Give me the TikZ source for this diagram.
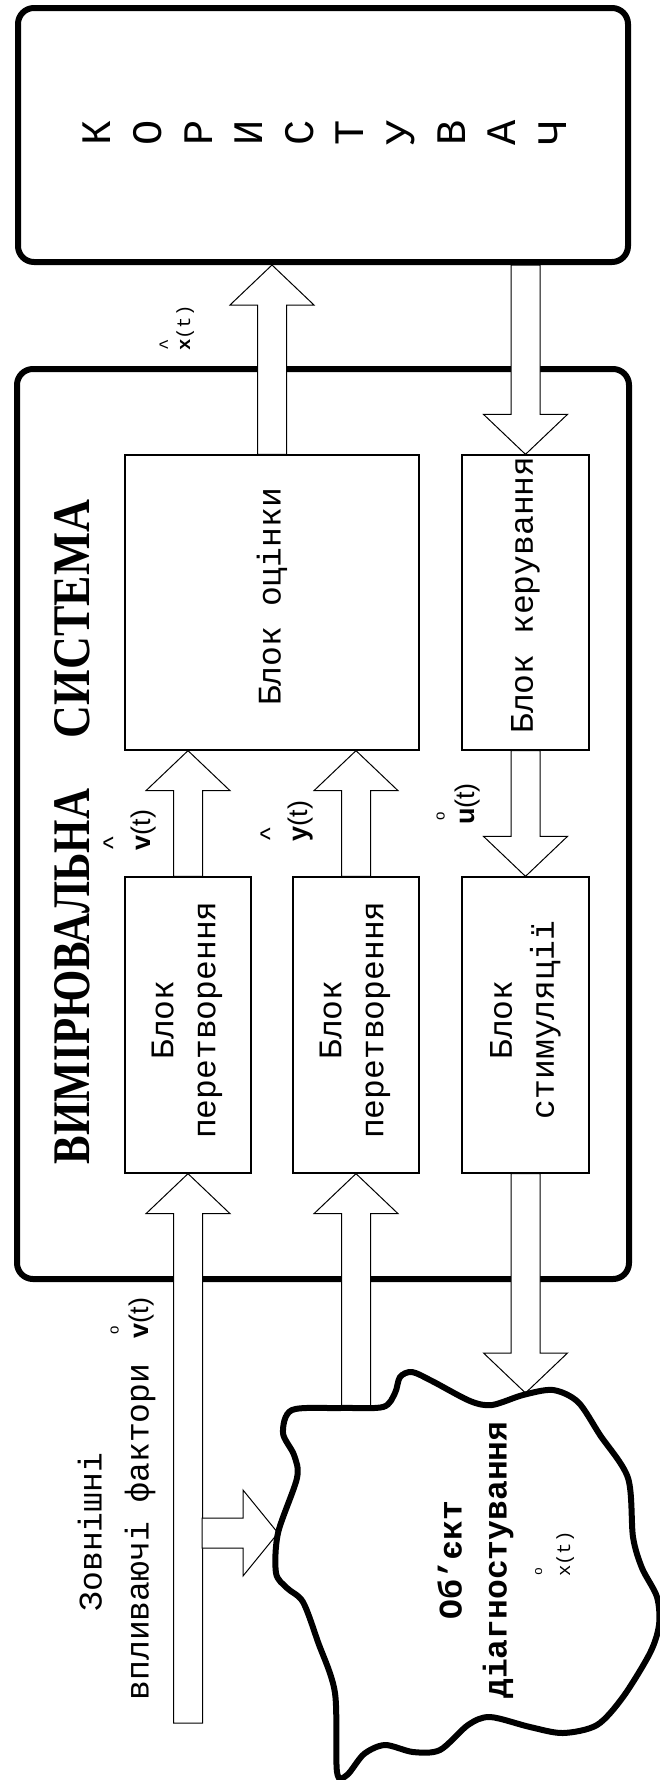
\documentclass[tikz,border=0pt]{standalone}
\usepackage{graphicx}
\usepackage{fontspec}
\setmainfont{Liberation Mono}
\newfontfamily\sansf{Liberation Sans}
\newfontfamily\serf{Liberation Serif}
\usetikzlibrary{calc}

% signal label with a mark above the letter
\newcommand\sig[3]{\begin{tabular}[b]{@{}c@{}}#1\\[#3]#2\end{tabular}(t)}

% vertical block arrow from #1 to #2
\newcommand\fatarrow[2]{%
  \draw[fatarr] let \p1=(#1), \p2=(#2), \n1={ifthenelse(\y2>\y1,1,-1)} in
    (\x1-14.5pt,\y1) -- (\x1-14.5pt,\y2-\n1*40pt) -- (\x1-42pt,\y2-\n1*40pt)
    -- (\x2,\y2) -- (\x1+42pt,\y2-\n1*40pt) -- (\x1+14.5pt,\y2-\n1*40pt)
    -- (\x1+14.5pt,\y1) -- cycle;}

% horizontal block arrow, to the right
\newcommand\fatarrowh[2]{%
  \draw[fatarr] let \p1=(#1), \p2=(#2) in
    (\x1,\y1-15pt) -- (\x2-35pt,\y1-15pt) -- (\x2-35pt,\y1-43pt) -- (\x2,\y2)
    -- (\x2-35pt,\y1+43pt) -- (\x2-35pt,\y1+15pt) -- (\x1,\y1+15pt) -- cycle;}

\begin{document}
\begin{tikzpicture}[x=1pt, y=-1pt,
    bigbox/.style={draw, line width=6pt, rounded corners=16pt, inner sep=0pt},
    blk/.style={draw, line width=1.3pt, inner sep=0pt, minimum width=#1, minimum height=296pt},
    blk/.default=126pt,
    fatarr/.style={draw, fill=white, line width=1pt, line join=miter},
    vtext/.style={rotate=90, inner sep=0pt, align=center, font=\fontsize{33pt}{42pt}\selectfont},
    lbl/.style={rotate=90, inner sep=0pt, font=\sansf\fontsize{27pt}{28pt}\selectfont}]
    \fill[white] (0,0) rectangle (660,1780);
    \useasboundingbox (0,0) rectangle (660,1780);

    % Measuring system (big frame)
    \node[bigbox, minimum width=612pt, minimum height=910pt] (sys) at (323,824) {};
    \node[rotate=90, inner sep=0pt, font=\serf\bfseries] (title) at (72.5,832)
        {\resizebox{375pt}{35pt}{ВИМІРЮВАЛЬНА}\hspace{51pt}\resizebox{238pt}{35pt}{СИСТЕМА}};

    % User (top)
    \node[bigbox, minimum width=610pt, minimum height=254pt] (user) at (323,135) {};
    \foreach \c [count=\i from 0] in {К,О,Р,И,С,Т,У,В,А,Ч}
        \node[rotate=90, inner sep=0pt, font=\fontsize{42pt}{42pt}\selectfont] (u\i) at ({97+50.6*\i},133) {\c};

    % Blocks
    \node[blk=294pt, minimum height=295pt] (ocin) at (272,602.5) {};
    \node[blk=127pt, minimum height=295pt] (kerv) at (525.5,602.5) {};
    \node[blk] (per1) at (188,1025) {};
    \node[blk] (per2) at (356,1025) {};
    \node[blk=127pt] (stim) at (525.5,1025) {};
    \node[vtext] (ocin-t) at (272,597) {Блок оцінки};
    \node[vtext] (kerv-t) at (525.5,595) {Блок керування};
    \node[vtext] (per1-t) at (187,1020) {Блок\\перетворення};
    \node[vtext] (per2-t) at (355,1020) {Блок\\перетворення};
    \node[vtext] (stim-t) at (525.5,1020) {Блок\\стимуляції};

    % Free ends
    \coordinate (ext) at (188,1723);
    \coordinate (infl) at (202,1533);
    \coordinate (objL) at (278,1533);
    \coordinate (objT) at (356,1408);
    \coordinate (objR) at (525.5,1393);

    % Block arrows
    \fatarrow{ocin.north -| ocin}{user.south -| ocin}
    \fatarrow{kerv.north |- user.south}{kerv.north}
    \fatarrow{per1.north}{ocin.south -| per1}
    \fatarrow{per2.north}{ocin.south -| per2}
    \fatarrow{kerv.south}{stim.north}
    \fatarrow{ext}{per1.south}
    \fatarrow{objT}{per2.south}
    \fatarrow{stim.south}{objR}
    \fatarrowh{infl}{objL}

    % Object of diagnosis (blob)
    \draw[line width=6pt, fill=white] plot[smooth cycle, tension=0.5] coordinates {
        (292,1410) (340,1408) (383,1407) (395,1393) (400,1377) (412,1372) (432,1381)
        (470,1401) (492,1405) (523,1395) (553,1390) (578,1402) (600,1435) (628,1478)
        (633,1537) (642,1568) (657,1597) (659,1625) (650,1653) (623,1697) (597,1725)
        (563,1733) (530,1727) (490,1717) (468,1725) (440,1750) (413,1752) (385,1745)
        (364,1754) (347,1775) (337,1772) (335,1693) (318,1642) (303,1602) (287,1588)
        (276,1573) (278,1533) (297,1478) (294,1455) (283,1433)};
    \node[vtext, font=\bfseries\fontsize{33pt}{45pt}\selectfont] (obj-t) at (475.5,1560) {Об'єкт\\діагностування};
    \node[rotate=90, inner sep=0pt, font=\fontsize{19pt}{20pt}\selectfont] (xo) at (552,1554)
        {\sig{\fontsize{13pt}{13pt}\selectfont o}{x}{8pt}};

    % External factors
    \node[vtext, font=\fontsize{33pt}{47pt}\selectfont] (ext-t) at (116.5,1532) {Зовнішні\\впливаючі фактори};

    % Signal labels
    \node[rotate=90, inner sep=0pt, font=\fontsize{19pt}{20pt}\selectfont] (xh) at (177,328)
        {\sig{\textasciicircum}{\textbf{x}}{-2pt}};
    \node[lbl] (vh) at (131,830) {\sig{\textasciicircum}{\textbf{v}}{0pt}};
    \node[lbl] (yh) at (288,821) {\sig{\textasciicircum}{\textbf{y}}{0pt}};
    \node[lbl] (uo) at (454,804) {\sig{\fontsize{15pt}{15pt}\selectfont o}{\textbf{u}}{2pt}};
    \node[lbl] (vo) at (128,1318) {\sig{\fontsize{15pt}{15pt}\selectfont o}{\textbf{v}}{2pt}};
\end{tikzpicture}
\end{document}
